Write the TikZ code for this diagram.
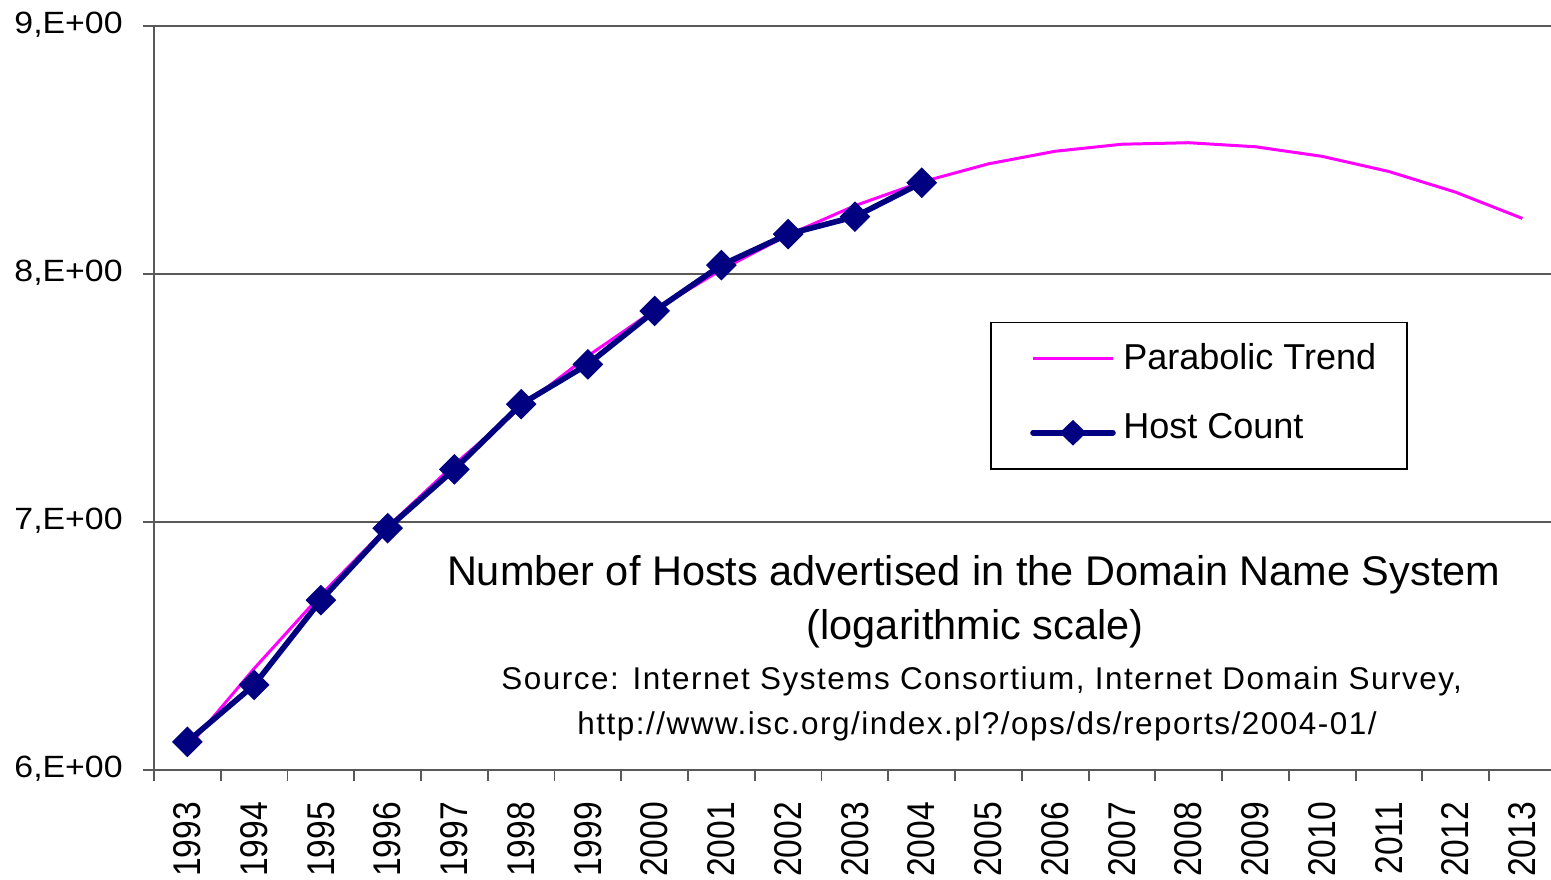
\documentclass[tikz,border=0pt]{standalone}
\usepackage{fontspec}
\setmainfont{Liberation Sans}
\usepackage{xcolor}
\usetikzlibrary{shapes,positioning}

\definecolor{hostnavy}{RGB}{0,0,128}
\definecolor{trendpink}{RGB}{255,0,255}

\begin{document}
\begin{tikzpicture}[x=1.335cm, y=4.96cm,
    axisline/.style={black!65, line width=1.1pt},
    gridline/.style={black!65, line width=0.8pt},
    hostline/.style={hostnavy, line width=3.2pt, line join=round, line cap=round},
    trendline/.style={trendpink, line width=1.7pt, line join=round},
    hostmark/.style={diamond, fill=hostnavy, inner sep=0pt, minimum width=0.62cm, minimum height=0.62cm},
    ticklabel/.style={anchor=base east, inner sep=0pt, font=\fontsize{17.5}{19}\selectfont\addfontfeature{FakeStretch=1.1}},
    yearlabel/.style={rotate=90, anchor=east, inner sep=0pt, font=\fontsize{22}{24}\selectfont\addfontfeature{FakeStretch=0.87}},
    titletext/.style={anchor=base, inner sep=0pt, font=\fontsize{23.6}{28}\selectfont},
    sourcetext/.style={anchor=base, inner sep=0pt, font=\fontsize{17.9}{22}\selectfont\addfontfeature{LetterSpace=4.8}},
    legendtext/.style={anchor=base west, inner sep=0pt, font=\fontsize{20.5}{24}\selectfont}]
    \useasboundingbox (-2.807,5.5605) rectangle (20.428,9.105);

    % Draw grid and axes
    \foreach \v in {7,8,9}
        \draw[gridline] (-0.5,\v) -- (20.5,\v);
    \draw[axisline] (-0.5,6) -- (-0.5,9);
    \draw[axisline] (-0.5,6) -- (20.5,6);
    \foreach \v in {6,7,8,9}
        \draw[axisline] (-0.665,\v) -- (-0.5,\v);
    \foreach \k in {0,...,20}
        \draw[axisline] (\k-0.5,6) -- (\k-0.5,5.956);

    % Tick labels
    \foreach \v in {6,7,8,9}
        \node[ticklabel] (lab\v) at (-0.965,{\v-0.032}) {\v,E+00};
    \foreach \yr [count=\k from 0] in {1993,...,2013}
        \node[yearlabel] (yr\yr) at (\k,5.872) {\yr};

    % ============================================================
    % Parabolic trend
    % ============================================================
    \draw[trendline] plot[domain=0:20, samples=21] (\x,{6.09+0.3304*\x-0.01119*\x*\x});

    % ============================================================
    % Host count
    % ============================================================
    \foreach \t/\v in {0/6.114, 1/6.343, 2/6.685, 3/6.975, 4/7.2125, 5/7.475,
                       6/7.636, 7/7.851, 8/8.036, 9/8.161, 10/8.231, 11/8.368}
        \coordinate (h\t) at (\t,\v);
    \draw[hostline] (h0) \foreach \i in {1,...,11} {-- (h\i)};
    \foreach \i in {0,...,11}
        \node[hostmark] (m\i) at (h\i) {};

    % ============================================================
    % Legend
    % ============================================================
    \draw[black, line width=0.7pt] (12.039,7.806) rectangle (18.271,7.214);
    \coordinate (trendA) at (12.668,7.661);
    \coordinate (trendB) at (13.866,7.661);
    \draw[trendline] (trendA) -- (trendB);
    \node[legendtext] (trendlab) at (14.016,7.613) {Parabolic Trend};
    \coordinate (hostA) at (12.668,7.360);
    \coordinate (hostB) at (13.866,7.360);
    \draw[hostline] (hostA) -- (hostB);
    \node[hostmark, minimum width=0.54cm, minimum height=0.52cm] (hostmk) at (13.267,7.360) {};
    \node[legendtext] (hostlab) at (14.016,7.335) {Host Count};

    % ============================================================
    % Title and source
    % ============================================================
    \node[titletext] (title1) at (11.78,6.746) {Number of Hosts advertised in the Domain Name System};
    \node[titletext] (title2) at (11.80,6.528) {(logarithmic scale)};
    \node[sourcetext] (source1) at (11.90,6.323) {Source: Internet Systems Consortium, Internet Domain Survey,};
    \node[sourcetext] (source2) at (11.83,6.145) {http://www.isc.org/index.pl?/ops/ds/reports/2004-01/};
\end{tikzpicture}
\end{document}
